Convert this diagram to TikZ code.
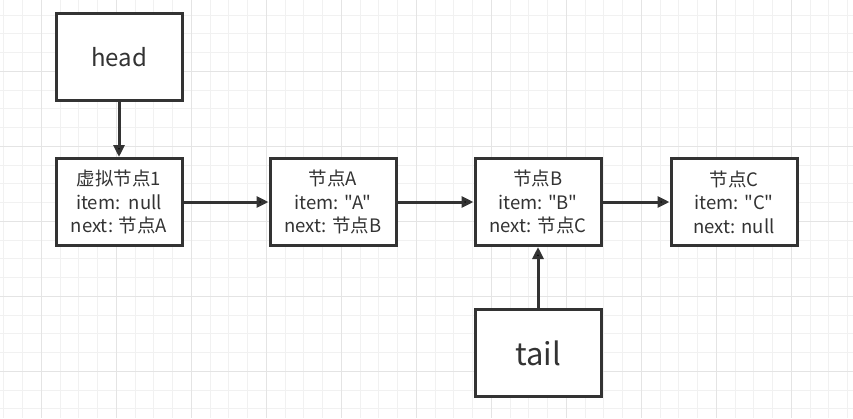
\documentclass[tikz,border=0pt]{standalone}
\usepackage{fontspec}
\setmainfont{Noto Sans CJK SC}[Ligatures=TeXOff]
\usetikzlibrary{arrows.meta}

\definecolor{ink}{HTML}{333333}
\definecolor{minorgrid}{HTML}{F1F1F1}
\definecolor{majorgrid}{HTML}{E4E4E4}

\begin{document}
\begin{tikzpicture}[x=1pt, y=-1pt, line width=3pt,
    box_style/.style={rectangle, draw=ink, fill=white, text=ink, inner sep=0pt,
        minimum width=126pt, minimum height=87pt, align=center,
        font=\fontsize{18.5}{23.5}\selectfont},
    edge_style/.style={draw=ink, line width=3pt, -{Triangle[length=12pt, width=11pt]}},
    minor_style/.style={draw=minorgrid, line width=1pt},
    major_style/.style={draw=majorgrid, line width=1.2pt}]

    % background grid
    \fill[white] (0,0) rectangle (853,418);
    \useasboundingbox (0,0) rectangle (853,418);
    \foreach \i in {0,...,45} \draw[minor_style] ({3.75+18.75*\i},0) -- ++(0,418);
    \foreach \j in {0,...,22} \draw[minor_style] (0,{-3.75+18.75*\j}) -- ++(853,0);
    \foreach \i in {0,...,11} \draw[major_style] ({41.25+75*\i},0) -- ++(0,418);
    \foreach \j in {0,...,5} \draw[major_style] (0,{-3.75+75*\j}) -- ++(853,0);

    % pointers
    \node[box_style, font=\fontsize{24}{28}\selectfont] (head) at (119,57) {head};
    \node[box_style, font=\fontsize{31}{36}\selectfont] (tail) at (538,353) {tail};

    % list nodes
    \node[box_style] (v0) at (119,202) {虚拟节点1\\item:\ \ null\\next: 节点A};
    \node[box_style] (nA) at (333,202) {节点A\\item: "A"\\next: 节点B};
    \node[box_style] (nB) at (538,202) {节点B\\item: "B"\\next: 节点C};
    \node[box_style] (nC) at (734,202) {节点C\\item: "C"\\next: null};

    \draw[edge_style] (head) edge (v0);
    \draw[edge_style] (v0) edge (nA);
    \draw[edge_style] (nA) edge (nB);
    \draw[edge_style] (nB) edge (nC);
    \draw[edge_style] (tail) edge (nB);
\end{tikzpicture}
\end{document}
